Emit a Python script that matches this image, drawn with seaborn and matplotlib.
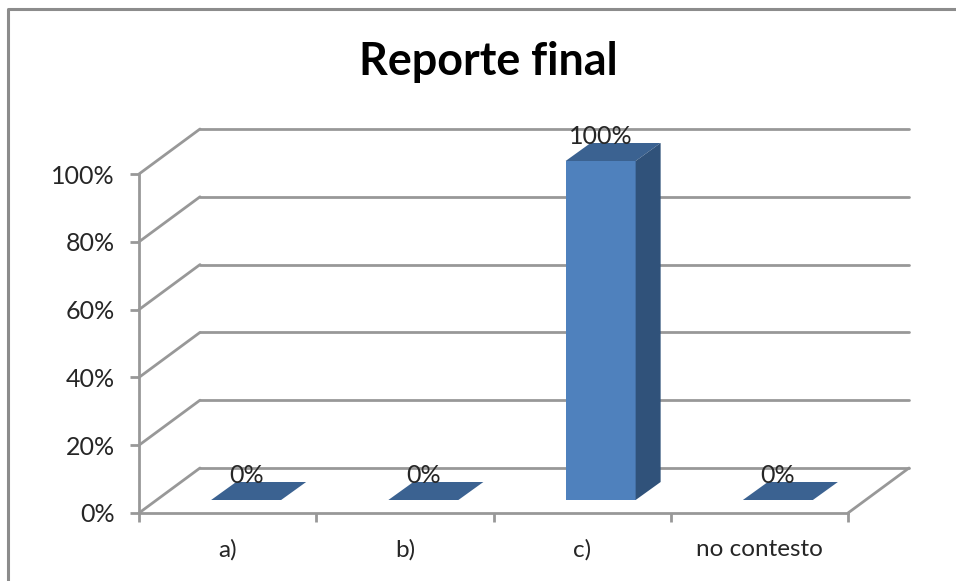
import matplotlib
matplotlib.use("Agg")
import matplotlib.pyplot as plt
from matplotlib.patches import Polygon
from matplotlib.lines import Line2D
from matplotlib.transforms import Affine2D
import pandas as pd
import seaborn as sns

categories = ["a)", "b)", "c)", "no contesto"]
percentages = [0, 0, 100, 0]
y_ticks = [0, 20, 40, 60, 80, 100]

W, H = 956, 581
FRONT_LEFT, FRONT_RIGHT = 139, 848
FRONT_TOP, FRONT_BOTTOM = 174, 513
WALL_DX, WALL_DY = 61, 45        # px depth of the floor and back wall
BAR_DX, BAR_DY = 18.5, 13        # px offset of the bar front from the axis plane
BAR_DEPTH_X, BAR_DEPTH_Y = 25, 18

GRID = "#989898"
TEXT = "#262626"
FRONT = "#4f81bd"
TOP = "#3b6291"
SIDE = "#30527a"

sns.set_theme(style="white")
plt.rcParams["font.family"] = ["Lato", "DejaVu Sans"]

fig = plt.figure(figsize=(W / 100, H / 100), dpi=100, facecolor="white")
ax = fig.add_axes([FRONT_LEFT / W, 1 - FRONT_BOTTOM / H,
                   (FRONT_RIGHT - FRONT_LEFT) / W, (FRONT_BOTTOM - FRONT_TOP) / H])
ax.patch.set_visible(False)

df = pd.DataFrame({"categoria": categories, "porcentaje": percentages})
sns.barplot(data=df, x="categoria", y="porcentaje", color=FRONT, saturation=1,
            width=0.395, ax=ax, zorder=3)
ax.set_xlim(-0.5, len(categories) - 0.5)
ax.set_ylim(0, 100)
ax.set_xlabel("")
ax.set_ylabel("")

# Everything behind the front plane is placed with pixel offsets on the data transform.
def shifted(dx, dy):
    return ax.transData + Affine2D().translate(dx, dy)

fig.canvas.draw()
to_px = ax.transData

# back wall gridlines and the diagonals joining them to the value axis
x0, x1 = ax.get_xlim()
for v in y_ticks:
    ax.add_line(Line2D([x0, x1], [v, v], transform=shifted(WALL_DX, WALL_DY),
                       color=GRID, lw=2, zorder=1, clip_on=False))
    px = to_px.transform((x0, v))
    ax.add_line(Line2D([px[0], px[0] + WALL_DX], [px[1], px[1] + WALL_DY],
                       transform=None, color=GRID, lw=2, zorder=1, clip_on=False))

# right edge of the floor
px = to_px.transform((x1, 0))
ax.add_line(Line2D([px[0], px[0] + WALL_DX], [px[1], px[1] + WALL_DY], transform=None,
                   color=GRID, lw=2, zorder=1, clip_on=False))

# bars: shift the front face, then add the top and side faces
for patch, value in zip(list(ax.patches), percentages):
    left = patch.get_x()
    right = left + patch.get_width()
    height = patch.get_height()
    (xl, yb), (xr, yt) = to_px.transform([(left, 0), (right, height)])
    xl, xr, yb, yt = xl + BAR_DX, xr + BAR_DX, yb + BAR_DY, yt + BAR_DY
    patch.set_transform(shifted(BAR_DX, BAR_DY))
    patch.set_clip_on(False)
    patch.set_edgecolor("none")
    ax.add_patch(Polygon([(xl, yt), (xr, yt), (xr + BAR_DEPTH_X, yt + BAR_DEPTH_Y),
                          (xl + BAR_DEPTH_X, yt + BAR_DEPTH_Y)],
                         transform=None, facecolor=TOP, edgecolor="none",
                         zorder=3, clip_on=False))
    if height > 0:
        ax.add_patch(Polygon([(xr, yb), (xr, yt), (xr + BAR_DEPTH_X, yt + BAR_DEPTH_Y),
                              (xr + BAR_DEPTH_X, yb + BAR_DEPTH_Y)],
                             transform=None, facecolor=SIDE, edgecolor="none",
                             zorder=3, clip_on=False))
    ax.annotate(f"{value}%", xy=((xl + xr) / 2, yt + BAR_DEPTH_Y - 1),
                xycoords="figure pixels", ha="center", va="baseline", fontsize=18,
                color=TEXT, zorder=5, annotation_clip=False)

ax.set_yticks(y_ticks)
ax.set_yticklabels([f"{v}%" for v in y_ticks])
ax.set_xticks([i - 0.5 for i in range(len(categories) + 1)], minor=False)
ax.set_xticklabels([""] * (len(categories) + 1))
ax.tick_params(axis="both", length=6.5, width=2, color=GRID, direction="out",
               bottom=True, left=True, labelsize=18, labelcolor=TEXT)
ax.tick_params(axis="y", pad=11)
for i, label in enumerate(categories):
    ax.text(i, -10.8, label, ha="center", va="center", fontsize=17.5, color=TEXT,
            clip_on=False)

for side in ("top", "right"):
    ax.spines[side].set_visible(False)
for side in ("left", "bottom"):
    ax.spines[side].set_color(GRID)
    ax.spines[side].set_linewidth(2)

fig.text(488 / W, 1 - 62 / H, "Reporte final", ha="center", va="center",
         fontsize=32.3, fontweight="bold", color="#000000")

# outer chart frame: left and top edges run off the canvas
fig.add_artist(Line2D([8 / W, 8 / W, 1],
                      [0, 1 - 9 / H, 1 - 9 / H], transform=fig.transFigure,
                      color="#8c8c8c", lw=2.2))

fig.savefig("out.png", dpi=100, facecolor="white")
